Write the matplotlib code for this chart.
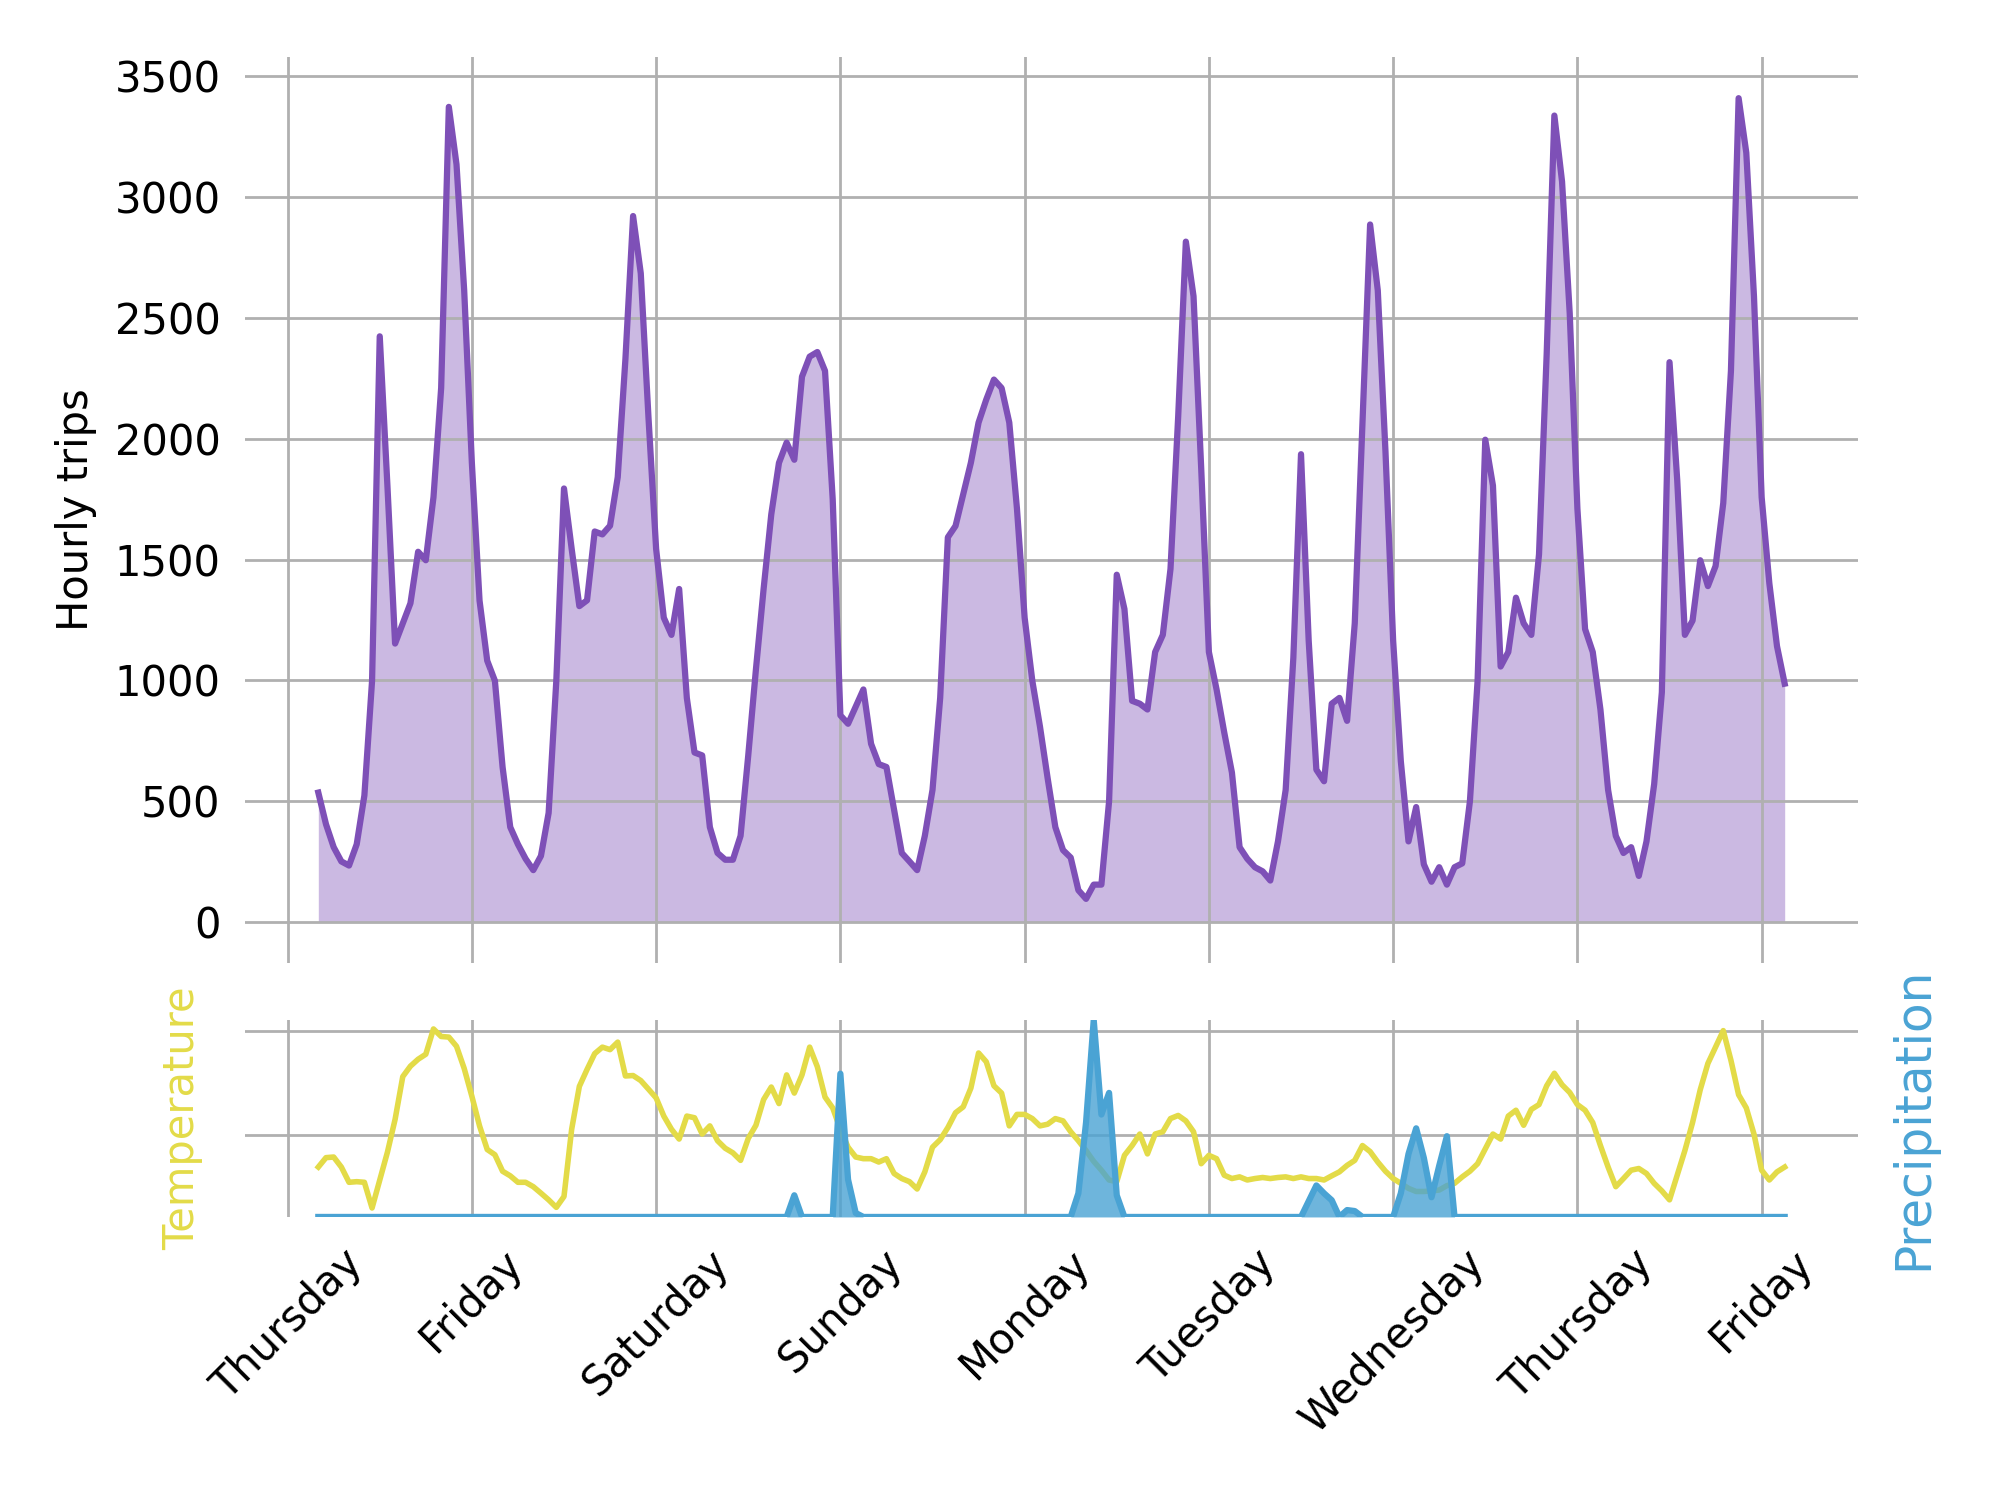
import numpy as np
import matplotlib
matplotlib.use("Agg")
import matplotlib.pyplot as plt

# hours since Thursday 00:00, one value per hour
hours = np.arange(4, 196)

trips = [
    535, 404, 309, 250, 233, 321, 523, 998, 2424, 1806, 1152, 1235, 1319, 1532, 1497, 1758, 2210, 3374, 3136, 2614,
    1900, 1330, 1081, 998, 641, 392, 321, 261, 214, 273, 451, 998, 1794, 1544, 1307, 1331, 1616, 1604, 1640, 1841, 2329, 2922, 2685, 2091,
    1544, 1259, 1188, 1378, 927, 701, 689, 392, 285, 257, 257, 356, 689, 1045, 1378, 1687, 1900, 1984, 1913, 2257, 2340, 2359, 2281, 1750,
    855, 820, 891, 962, 737, 653, 641, 463, 285, 250, 214, 356, 546, 927, 1592, 1639, 1770, 1901, 2067, 2162, 2245, 2210, 2067, 1711,
    1259, 998, 808, 594, 392, 297, 266, 131, 95, 154, 154, 499, 1437, 1295, 915, 903, 879, 1117, 1188, 1461, 2091, 2816, 2590, 1877,
    1117, 962, 784, 618, 309, 261, 226, 209, 171, 333, 546, 1093, 1936, 1164, 630, 582, 903, 927, 832, 1236, 2067, 2887, 2614, 1948,
    1164, 665, 333, 475, 238, 166, 226, 154, 226, 242, 499, 998, 1996, 1806, 1057, 1117, 1342, 1236, 1188, 1521, 2352, 3338, 3065, 2519,
    1711, 1212, 1117, 879, 546, 356, 285, 309, 190, 333, 570, 950, 2317, 1830, 1188, 1247, 1497, 1390, 1473, 1734, 2281, 3410, 3184, 2590,
    1758, 1402, 1141, 986,
]

temperature = [
    3.47, 3.92, 3.95, 3.47, 2.74, 2.77, 2.74, 1.51, 2.85, 4.18, 5.75, 7.80, 8.30, 8.63, 8.87, 10.08, 9.72, 9.69, 9.25, 8.19,
    6.86, 5.44, 4.31, 4.06, 3.27, 3.05, 2.74, 2.74, 2.53, 2.22, 1.90, 1.54, 2.06, 5.28, 7.33, 8.14, 8.90, 9.21, 9.09, 9.45, 7.83, 7.85, 7.61, 7.20,
    6.78, 5.91, 5.28, 4.81, 5.91, 5.83, 5.05, 5.44, 4.73, 4.37, 4.15, 3.79, 4.84, 5.47, 6.70, 7.30, 6.51, 7.88, 7.01, 7.88, 9.21, 8.27, 6.82, 6.30,
    5.28, 4.42, 3.95, 3.87, 3.87, 3.71, 3.87, 3.16, 2.92, 2.77, 2.42, 3.24, 4.42, 4.78, 5.36, 6.07, 6.35, 7.25, 8.93, 8.51, 7.36, 7.01, 5.44, 5.99,
    5.99, 5.79, 5.44, 5.52, 5.79, 5.68, 5.16, 4.73, 4.26, 3.74, 3.32, 2.85, 2.77, 4.03, 4.50, 5.05, 4.10, 5.05, 5.16, 5.79, 5.94, 5.68, 5.16, 3.63,
    4.03, 3.87, 3.08, 2.92, 3.00, 2.85, 2.92, 2.97, 2.92, 2.97, 3.00, 2.92, 3.00, 2.92, 2.92, 2.85, 3.05, 3.24, 3.55, 3.79, 4.50, 4.21, 3.71, 3.27,
    2.92, 2.69, 2.45, 2.30, 2.30, 2.33, 2.37, 2.58, 2.69, 3.00, 3.27, 3.63, 4.34, 5.05, 4.81, 5.91, 6.19, 5.47, 6.23, 6.46, 7.36, 7.96, 7.41, 7.04,
    6.46, 6.19, 5.60, 4.50, 3.47, 2.53, 2.92, 3.32, 3.40, 3.16, 2.69, 2.33, 1.90, 3.08, 4.26, 5.60, 7.17, 8.43, 9.21, 10.0, 8.58, 6.93, 6.30, 5.05,
    3.32, 2.85, 3.24, 3.47,
]

precipitation = [
    0, 0, 0, 0, 0, 0, 0, 0, 0, 0, 0, 0, 0, 0, 0, 0, 0, 0, 0, 0,
    0, 0, 0, 0, 0, 0, 0, 0, 0, 0, 0, 0, 0, 0, 0, 0, 0, 0, 0, 0, 0, 0, 0, 0,
    0, 0, 0, 0, 0, 0, 0, 0, 0, 0, 0, 0, 0, 0, 0, 0, 0, 0, 0.44, 0, 0, 0, 0, 0,
    2.91, 0.76, 0.08, 0, 0, 0, 0, 0, 0, 0, 0, 0, 0, 0, 0, 0, 0, 0, 0, 0, 0, 0, 0, 0,
    0, 0, 0, 0, 0, 0, 0, 0.48, 1.92, 4.0, 2.08, 2.52, 0.44, 0, 0, 0, 0, 0, 0, 0, 0, 0, 0, 0,
    0, 0, 0, 0, 0, 0, 0, 0, 0, 0, 0, 0, 0, 0.32, 0.64, 0.48, 0.34, 0, 0.14, 0.12, 0, 0, 0, 0,
    0, 0.48, 1.28, 1.80, 1.20, 0.40, 1.04, 1.64, 0, 0, 0, 0, 0, 0, 0, 0, 0, 0, 0, 0, 0, 0, 0, 0,
    0, 0, 0, 0, 0, 0, 0, 0, 0, 0, 0, 0, 0, 0, 0, 0, 0, 0, 0, 0, 0, 0, 0, 0,
    0, 0, 0, 0,
]

day_ticks = np.arange(0, 193, 24)
day_labels = ["Thursday", "Friday", "Saturday", "Sunday", "Monday",
              "Tuesday", "Wednesday", "Thursday", "Friday"]

purple = "#7e50b7"
yellow = "#e3db48"
blue = "#4aa3d4"

plt.rcParams["font.size"] = 12
plt.rcParams["font.family"] = "DejaVu Sans"

fig = plt.figure(figsize=(8, 6), dpi=250)
ax = fig.add_axes([0.1225, 0.358, 0.8065, 0.604])
ax_w = fig.add_axes([0.1225, 0.1887, 0.8065, 0.1313], sharex=ax)

# trips panel
ax.plot(hours, trips, color=purple, lw=1.8)
ax.fill_between(hours, trips, color=purple, alpha=0.4, lw=0)
ax.set_ylabel("Hourly trips", labelpad=5)
ax.set_yticks(np.arange(0, 3501, 500))
ax.set_xticks(day_ticks)
ax.grid(True, color="#b0b0b0", lw=0.8)
ax.tick_params(length=0, pad=7)
ax.tick_params(axis="x", labelbottom=False)
for s in ax.spines.values():
    s.set_visible(False)

# weather panel
ax_w.plot(hours, temperature, color=yellow, lw=1.6)
ax_w.set_yticks([5, 10])
ax_w.set_yticklabels([])
ax_w.grid(True, color="#b0b0b0", lw=0.8)
ax_w.tick_params(length=0, pad=7)
ax_w.set_ylabel("Temperature", color=yellow, labelpad=5)
ax_w.set_xticks(day_ticks)
ax_w.set_xticklabels(day_labels, rotation=45)
for s in ax_w.spines.values():
    s.set_visible(False)

ax_p = ax_w.twinx()
ax_p.plot(hours, precipitation, color=blue, lw=1.8)
ax_p.fill_between(hours, precipitation, color=blue, alpha=0.8, lw=0)
ax_p.set_ylim(0, max(precipitation))
ax_p.set_yticks([])
ax_p.set_ylabel("Precipitation", color=blue, fontsize=14, labelpad=9)
for s in ax_p.spines.values():
    s.set_visible(False)

fig.savefig("out.png", dpi=250)
